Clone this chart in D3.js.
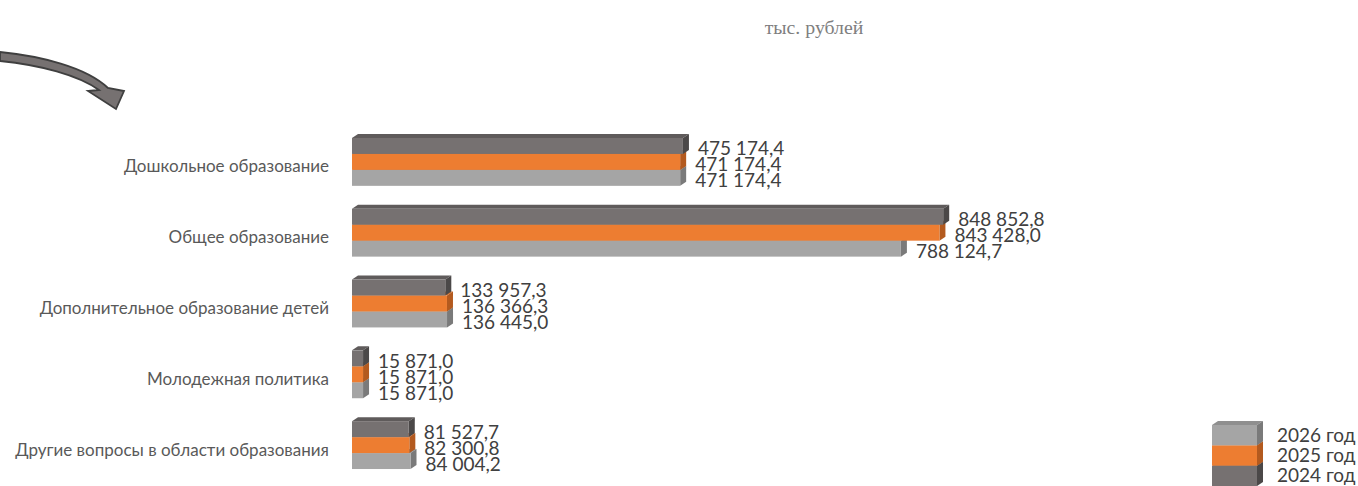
<!DOCTYPE html>
<html><head><meta charset="utf-8">
<script src="https://cdn.jsdelivr.net/npm/d3@7"></script>
<style>
html,body{margin:0;padding:0;background:#fff;overflow:hidden}
svg{display:block}
</style></head>
<body>
<svg id="chart" width="1358" height="486"></svg>
<script>
const categories = [
  "Дошкольное образование",
  "Общее образование",
  "Дополнительное образование детей",
  "Молодежная политика",
  "Другие вопросы в области образования"
];
const seriesNames = ["2024 год", "2025 год", "2026 год"];
const values2024 = [475174.4, 848852.8, 133957.3, 15871.0, 81527.7];
const values2025 = [471174.4, 843428.0, 136366.3, 15871.0, 82300.8];
const values2026 = [471174.4, 788124.7, 136445.0, 15871.0, 84004.2];
const unitLabel = "тыс. рублей";

const seriesValues = [values2024, values2025, values2026];
const colors = {
  "2024 год": {front:"#767171", top:"#5f5b5b", side:"#4b4848"},
  "2025 год": {front:"#ed7d31", top:"#d06a26", side:"#b35a1f"},
  "2026 год": {front:"#a5a5a5", top:"#8f8f8f", side:"#7a7a7a"}
};
const DX = 6, DY = 4;

const svg = d3.select("#chart");
const fmt = v => {
  const s = v.toFixed(1).split(".");
  return s[0].replace(/\B(?=(\d{3})+(?!\d))/g, " ") + "," + s[1];
};

const x = d3.scaleLinear().domain([0, 850000]).range([352, 944]);
const y = d3.scaleBand().domain(categories).range([126.5, 480.5]).paddingInner(0.324).paddingOuter(0.162);
const ys = d3.scaleBand().domain(seriesNames).range([0, y.bandwidth()]);

// unit label
svg.append("text").attr("x", 814).attr("y", 34).attr("text-anchor", "middle")
  .attr("font-family", "Liberation Serif, serif").attr("font-size", 19.8).attr("fill", "#7f7f7f")
  .text(unitLabel);

// arrow
svg.append("path")
  .attr("d", "M0,52 C40,56 86,67 108,88 L124,91 L116,109 L88,91 L99,90 C78,75 40,65 0,61 Z")
  .attr("fill", "#767171").attr("stroke", "#3f3f3f").attr("stroke-width", 1.8).attr("stroke-linejoin", "miter");

// category labels
svg.append("g").selectAll("text").data(categories).join("text")
  .attr("x", 329).attr("y", d => y(d) + y.bandwidth()/2 + 4)
  .attr("text-anchor", "end").attr("dominant-baseline", "central")
  .attr("font-family", "Lato, sans-serif").attr("font-size", 17).attr("fill", "#595959")
  .text(d => d);

function bar3d(g, x0, x1, y0, h, c) {
  g.append("path").attr("d", `M${x0},${y0} L${x0+DX},${y0-DY} L${x1+DX},${y0-DY} L${x1},${y0} Z`).attr("fill", c.top);
  g.append("path").attr("d", `M${x1},${y0} L${x1+DX},${y0-DY} L${x1+DX},${y0+h-DY} L${x1},${y0+h} Z`).attr("fill", c.side);
  g.append("rect").attr("x", x0).attr("y", y0).attr("width", x1 - x0).attr("height", h).attr("fill", c.front);
}

const barsG = svg.append("g");
categories.forEach((cat, i) => {
  for (let s = seriesNames.length - 1; s >= 0; s--) {
    const name = seriesNames[s];
    const v = seriesValues[s][i];
    const y0 = y(cat) + ys(name);
    bar3d(barsG, x(0), x(v), y0, ys.bandwidth(), colors[name]);
  }
});
const labG = svg.append("g");
categories.forEach((cat, i) => {
  seriesNames.forEach((name, s) => {
    const v = seriesValues[s][i];
    labG.append("text")
      .attr("x", x(v) + DX + 9)
      .attr("y", y(cat) + ys(name) + ys.bandwidth()/2 + 2)
      .attr("dominant-baseline", "central")
      .attr("font-family", "Lato, sans-serif").attr("font-size", 19).attr("fill", "#404040")
      .text(fmt(v));
  });
});

const legendOrder = seriesNames.slice().reverse();
const ly = d3.scaleBand().domain(legendOrder).range([425, 486]);
const legG = svg.append("g");
legendOrder.slice().reverse().forEach(name => {
  bar3d(legG, 1212, 1257, ly(name), ly.bandwidth(), colors[name]);
});
legG.selectAll("text").data(legendOrder).join("text")
  .attr("x", 1277).attr("y", d => ly(d) + ly.bandwidth()/2 - 1)
  .attr("dominant-baseline", "central")
  .attr("font-family", "Lato, sans-serif").attr("font-size", 19).attr("fill", "#404040")
  .text(d => d);
</script>
</body></html>
